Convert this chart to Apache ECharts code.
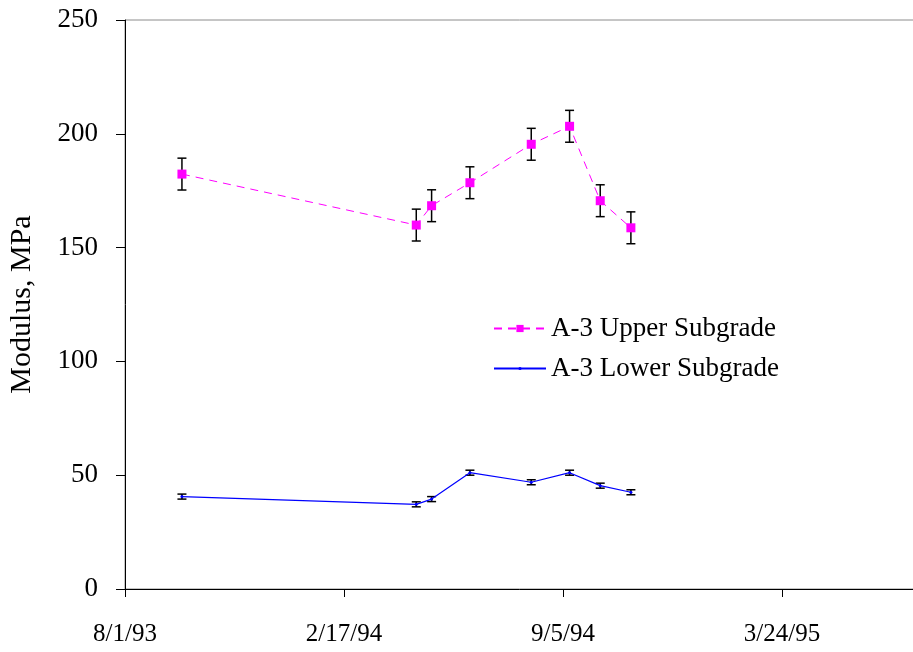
<!DOCTYPE html>
<html>
<head>
<meta charset="utf-8">
<script src="https://cdn.jsdelivr.net/npm/echarts@6/dist/echarts.min.js"></script>
<style>
  html, body { margin: 0; padding: 0; background: #fff; }
  #chart { width: 913px; height: 652px; }
</style>
</head>
<body>
<div id="chart"></div>
<script>
// Test dates (Y-M-D) shared by both subgrade layers
var testDates = ['1993-09-22', '1994-04-24', '1994-05-08', '1994-06-12',
                 '1994-08-07', '1994-09-11', '1994-10-09', '1994-11-06'];
// Backcalculated modulus, MPa
var upperModulus = [182.3, 159.9, 168.4, 178.5, 195.4, 203.3, 170.6, 158.7];
var lowerModulus = [40.6, 37.2, 39.5, 51.1, 46.9, 51.1, 45.4, 42.5];
// Error bar half-widths, MPa
var upperErr = [7, 7, 7, 7, 7, 7, 7, 7];
var lowerErr = [1.1, 1.1, 1.1, 1.1, 1.1, 1.1, 1.1, 1.1];
// Axis settings
var xStart = '1993-08-01';
var xStepDays = 200;
var xEnd = '1995-10-10';
var yTicks = [0, 50, 100, 150, 200, 250];

var DAY = 86400000;
function toMs(s) {
  var p = s.split('-');
  return Date.UTC(+p[0], +p[1] - 1, +p[2]);
}
function fmtDate(v) {
  var d = new Date(v);
  var yy = String(d.getUTCFullYear() % 100);
  if (yy.length < 2) yy = '0' + yy;
  return (d.getUTCMonth() + 1) + '/' + d.getUTCDate() + '/' + yy;
}

var upperPts = testDates.map(function (d, i) { return [toMs(d), upperModulus[i]]; });
var lowerPts = testDates.map(function (d, i) { return [toMs(d), lowerModulus[i]]; });
var upperBars = testDates.map(function (d, i) { return [toMs(d), upperModulus[i] - upperErr[i], upperModulus[i] + upperErr[i]]; });
var lowerBars = testDates.map(function (d, i) { return [toMs(d), lowerModulus[i] - lowerErr[i], lowerModulus[i] + lowerErr[i]]; });

function errorBarItem(params, api) {
  var x = api.value(0);
  var lo = api.coord([x, api.value(1)]);
  var hi = api.coord([x, api.value(2)]);
  var half = 4.5;
  var style = { stroke: '#000', lineWidth: 1.5, fill: null };
  return {
    type: 'group',
    children: [
      { type: 'line', shape: { x1: hi[0], y1: hi[1], x2: lo[0], y2: lo[1] }, style: style },
      { type: 'line', shape: { x1: hi[0] - half, y1: hi[1], x2: hi[0] + half, y2: hi[1] }, style: style },
      { type: 'line', shape: { x1: lo[0] - half, y1: lo[1], x2: lo[0] + half, y2: lo[1] }, style: style }
    ]
  };
}

var serif = "'Liberation Serif', 'Times New Roman', serif";
var legendText = { fontFamily: serif, fontSize: 27, color: '#000' };
var chart = echarts.init(document.getElementById('chart'), null, { renderer: 'canvas' });

chart.setOption({
  animation: false,
  backgroundColor: '#fff',
  grid: {
    left: 125, top: 20, width: 876, height: 569,
    show: true, borderColor: '#8c8c8c', borderWidth: 1,
    containLabel: false, outerBoundsMode: 'none'
  },
  legend: [
    {
      data: ['A-3 Upper Subgrade'],
      left: 488, top: 310,
      itemWidth: 52, itemHeight: 9,
      textStyle: legendText
    },
    {
      data: ['A-3 Lower Subgrade'],
      left: 488, top: 350,
      itemWidth: 52, itemHeight: 4,
      textStyle: legendText
    }
  ],
  xAxis: {
    type: 'value',
    min: toMs(xStart), max: toMs(xEnd), interval: xStepDays * DAY,
    splitLine: { show: false },
    axisLine: { lineStyle: { color: '#000', width: 1 } },
    axisTick: { length: 8, lineStyle: { color: '#000' } },
    axisLabel: { formatter: fmtDate, margin: 33, fontFamily: serif, fontSize: 25, color: '#000' }
  },
  yAxis: {
    type: 'value',
    min: yTicks[0], max: yTicks[yTicks.length - 1], interval: yTicks[1] - yTicks[0],
    name: 'Modulus, MPa', nameLocation: 'middle', nameGap: 88,
    nameTextStyle: { fontFamily: serif, fontSize: 30, color: '#000' },
    splitLine: { show: false },
    axisLine: { show: true, lineStyle: { color: '#000', width: 1 } },
    axisTick: { show: true, length: 9, lineStyle: { color: '#000' } },
    axisLabel: { margin: 27, fontFamily: serif, fontSize: 27, color: '#000' }
  },
  series: [
    {
      name: 'upper-err', type: 'custom', renderItem: errorBarItem,
      data: upperBars, z: 1, silent: true
    },
    {
      name: 'lower-err', type: 'custom', renderItem: errorBarItem,
      data: lowerBars, z: 1, silent: true
    },
    {
      name: 'A-3 Upper Subgrade', type: 'line', data: upperPts, z: 3,
      symbol: 'rect', symbolSize: 9,
      itemStyle: { color: '#ff00ff', borderWidth: 0 },
      lineStyle: { color: '#ff00ff', width: 1, type: [8, 6] }
    },
    {
      name: 'A-3 Lower Subgrade', type: 'line', data: lowerPts, z: 3,
      symbol: 'circle', symbolSize: 3,
      itemStyle: { color: '#0000ff', borderWidth: 0 },
      lineStyle: { color: '#0000ff', width: 1.2 }
    }
  ]
});
</script>
</body>
</html>
